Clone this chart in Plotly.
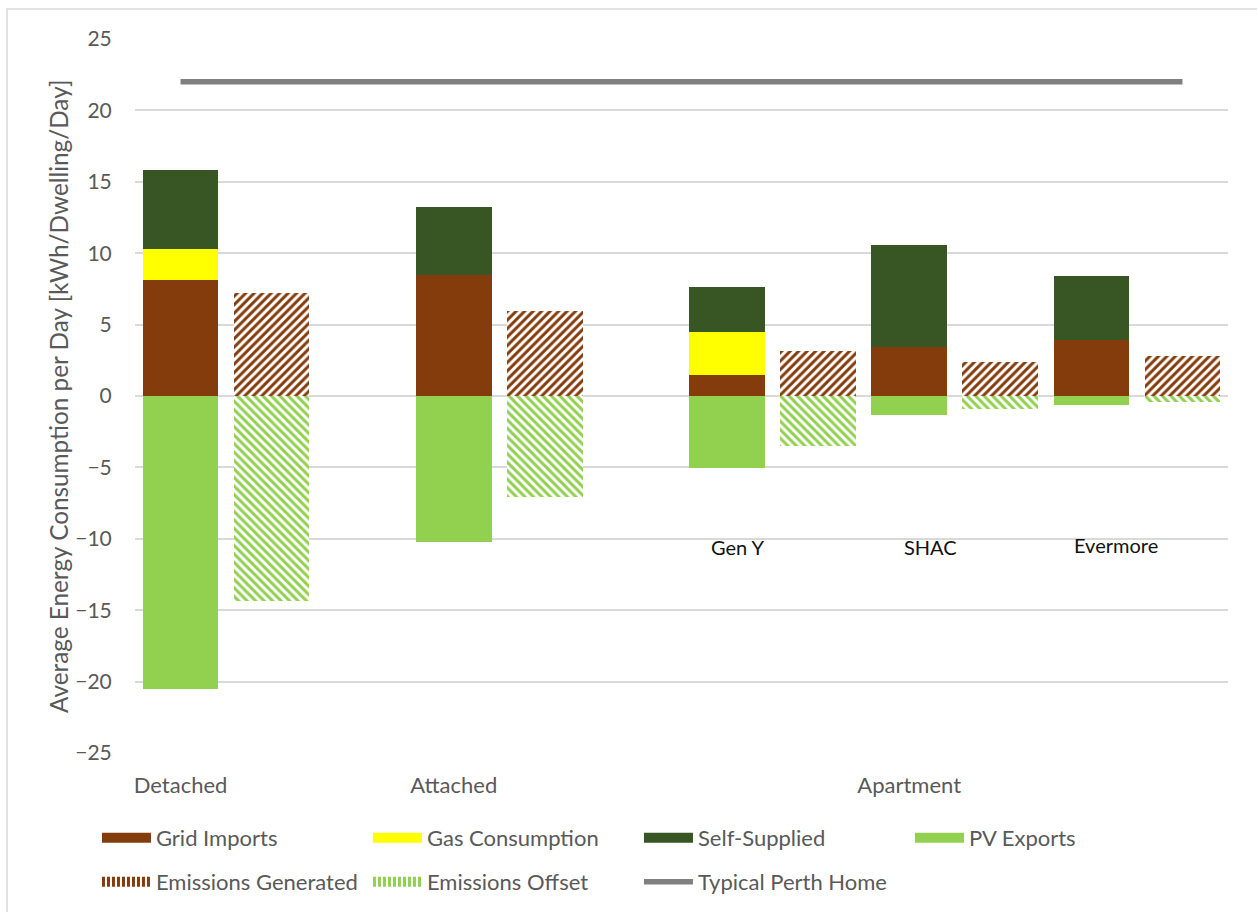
import plotly.graph_objects as go

# Dwelling types and values (kWh / dwelling / day)
dwellings = ["Detached", "Attached", "Gen Y", "SHAC", "Evermore"]
grid_imports = [8.12, 8.45, 1.47, 3.42, 3.92]
gas_consumption = [2.17, 0.0, 3.02, 0.0, 0.0]
self_supplied = [5.54, 4.79, 3.16, 7.15, 4.48]
pv_exports = [-20.5, -10.22, -5.04, -1.35, -0.63]
emissions_generated = [7.2, 5.95, 3.15, 2.38, 2.8]
emissions_offset = [-14.36, -7.07, -3.52, -0.91, -0.42]
typical_perth_home = 22.0

group_labels = ["Detached", "Attached", "Apartment"]
apartment_names = ["Gen Y", "SHAC", "Evermore"]

# slot layout on a numeric axis: gaps between dwelling groups
slot_centres = [1, 4, 7, 9, 11]
energy_x = [c - 0.5 for c in slot_centres]
emission_x = [c + 0.5 for c in slot_centres]
group_tick_x = [0.5, 3.5, 8.5]
apt_label_x = [6.62, 8.73, 10.77]
apt_label_y = [-10.6, -10.6, -10.45]

FONT = "Lato"
TXT = "#595959"
BW = 0.83

BROWN = "#843C0C"
YELLOW = "#FFFF00"
DKGREEN = "#375623"
LTGREEN = "#92D050"

fig = go.Figure()


def legend_swatch(name, color, legend, dash="solid"):
    # wide swatch legend entry (no drawn data)
    fig.add_trace(go.Scatter(
        x=[None], y=[None], mode="lines", name=name,
        line=dict(color=color, width=10, dash=dash),
        legend=legend, hoverinfo="skip",
    ))


def solid(name, y, color):
    fig.add_trace(go.Bar(
        x=energy_x, y=y, name=name, width=BW,
        marker=dict(color=color, line=dict(width=0)),
        showlegend=False,
    ))
    legend_swatch(name, color, "legend")


solid("Grid Imports", grid_imports, BROWN)
solid("Gas Consumption", gas_consumption, YELLOW)
solid("Self-Supplied", self_supplied, DKGREEN)
solid("PV Exports", pv_exports, LTGREEN)


def hatched(name, y, color, shape):
    fig.add_trace(go.Bar(
        x=emission_x, y=y, name=name, width=BW,
        marker=dict(
            color="white", line=dict(width=0),
            pattern=dict(shape=shape, fgcolor=color, bgcolor="white",
                         size=6, solidity=0.5, fillmode="replace"),
        ),
        showlegend=False,
    ))
    legend_swatch(name, color, "legend2", dash="3px,2px")


hatched("Emissions Generated", emissions_generated, BROWN, "/")
hatched("Emissions Offset", emissions_offset, LTGREEN, "\\")

fig.add_trace(go.Scatter(
    x=[energy_x[0], emission_x[-1]],
    y=[typical_perth_home, typical_perth_home],
    mode="lines", name="Typical Perth Home",
    line=dict(color="#808080", width=5.5),
    legend="legend2",
))

for name, x, y in zip(apartment_names, apt_label_x, apt_label_y):
    fig.add_annotation(x=x, y=y, text=name, showarrow=False,
                       font=dict(family=FONT, size=20, color="#111111"),
                       xanchor="center", yanchor="middle")

# y axis title
fig.add_annotation(
    xref="paper", yref="paper", x=-0.0705, y=0.5,
    text="Average Energy Consumption per Day [kWh/Dwelling/Day]",
    textangle=-90, showarrow=False,
    font=dict(family=FONT, size=24.3, color=TXT),
    xanchor="center", yanchor="middle",
)

# chart area border
fig.add_shape(type="rect", xref="paper", yref="paper",
              x0=-0.1171, x1=1.03, y0=-0.23, y1=1.042,
              line=dict(color="#D9D9D9", width=1.5), fillcolor="rgba(0,0,0,0)",
              layer="below")

legend_common = dict(
    orientation="h", xanchor="left", yanchor="middle",
    font=dict(family=FONT, size=22, color=TXT),
    itemwidth=49, entrywidth=207, entrywidthmode="pixels",
    bgcolor="rgba(0,0,0,0)", traceorder="normal",
)

fig.update_layout(
    width=1257, height=912,
    margin=dict(l=135, r=29, t=39, b=159, autoexpand=False),
    plot_bgcolor="white", paper_bgcolor="white",
    barmode="relative", bargap=0,
    font=dict(family=FONT, size=22, color=TXT),
    showlegend=True,
    legend=dict(x=-0.0348, y=-0.119, **legend_common),
    legend2=dict(x=-0.0348, y=-0.1807, **legend_common),
    xaxis=dict(
        range=[0, 12], tickmode="array", tickvals=group_tick_x, ticktext=group_labels,
        showgrid=False, zeroline=False, showline=False,
        ticks="outside", ticklen=13, tickcolor="rgba(0,0,0,0)",
        tickfont=dict(family=FONT, size=22, color=TXT),
    ),
    yaxis=dict(
        range=[-25, 25], dtick=5, tick0=0,
        showgrid=True, gridcolor="#D9D9D9", gridwidth=1.5,
        zeroline=True, zerolinecolor="#D9D9D9", zerolinewidth=1.5,
        showline=False,
        ticks="outside", ticklen=18, tickcolor="rgba(0,0,0,0)",
        tickfont=dict(family=FONT, size=21, color=TXT),
    ),
)

fig.write_html("out.html")
